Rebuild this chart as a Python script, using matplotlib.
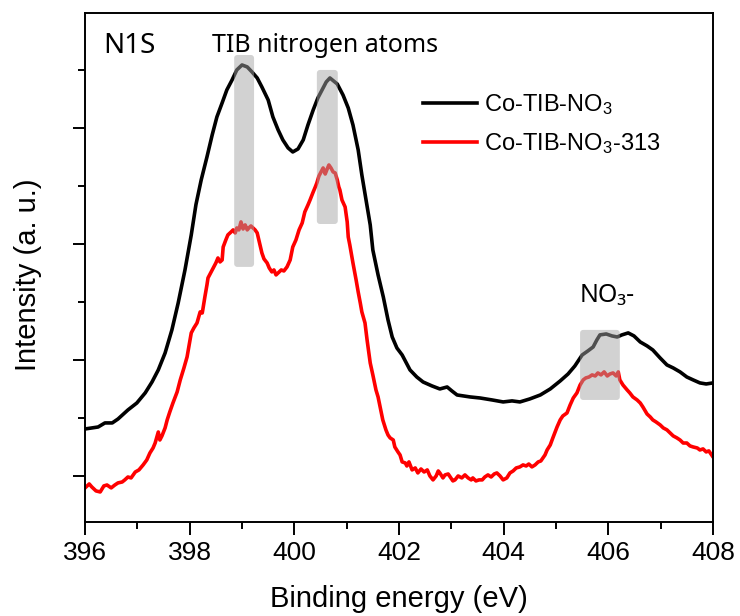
import matplotlib
matplotlib.use("Agg")
import matplotlib.pyplot as plt
from matplotlib.patches import FancyBboxPatch
from matplotlib.ticker import MultipleLocator

plt.rcParams["font.family"] = ["Liberation Sans", "DejaVu Sans"]
plt.rcParams["mathtext.fontset"] = "custom"
plt.rcParams["mathtext.rm"] = "Liberation Sans"
plt.rcParams["mathtext.it"] = "Liberation Sans:italic"

# N 1s spectrum of Co-TIB-NO3 (binding energy in eV, intensity in a.u.)
black_energy = [
    396.00, 396.25, 396.38, 396.52, 396.63, 396.82, 396.99, 397.15, 397.28, 397.40,
    397.53, 397.66, 397.78, 397.91, 398.03, 398.12, 398.22, 398.33, 398.43, 398.52,
    398.62, 398.71, 398.81, 398.90, 399.00, 399.10, 399.19, 399.29, 399.38, 399.50,
    399.59, 399.69, 399.78, 399.88, 399.97, 400.07, 400.17, 400.26, 400.36, 400.45,
    400.53, 400.61, 400.68, 400.82, 400.93, 401.03, 401.12, 401.22, 401.29, 401.37,
    401.45, 401.50, 401.60, 401.70, 401.79, 401.87, 401.96, 402.06, 402.21, 402.34,
    402.46, 402.63, 402.78, 402.92, 403.01, 403.11, 403.36, 403.55, 403.78, 403.99,
    404.16, 404.31, 404.50, 404.70, 404.89, 405.08, 405.23, 405.36, 405.50, 405.61,
    405.71, 405.78, 405.84, 405.96, 406.07, 406.17, 406.26, 406.38, 406.49, 406.61,
    406.74, 406.85, 406.99, 407.12, 407.24, 407.37, 407.50, 407.62, 407.75, 407.87,
    408.00,
]
black_intensity = [
    1.405, 1.422, 1.457, 1.457, 1.491, 1.569, 1.629, 1.716, 1.810, 1.914,
    2.060, 2.259, 2.491, 2.776, 3.078, 3.340, 3.552, 3.750, 3.940, 4.095,
    4.216, 4.328, 4.414, 4.500, 4.543, 4.526, 4.483, 4.431, 4.353, 4.241,
    4.095, 3.983, 3.897, 3.828, 3.793, 3.819, 3.897, 4.026, 4.155, 4.259,
    4.328, 4.397, 4.431, 4.379, 4.284, 4.172, 4.026, 3.810, 3.595, 3.379,
    3.164, 2.948, 2.733, 2.543, 2.345, 2.198, 2.103, 2.043, 1.914, 1.853,
    1.810, 1.776, 1.750, 1.767, 1.733, 1.698, 1.681, 1.672, 1.655, 1.638,
    1.647, 1.638, 1.664, 1.698, 1.750, 1.819, 1.879, 1.948, 2.043, 2.078,
    2.112, 2.172, 2.216, 2.224, 2.207, 2.198, 2.216, 2.233, 2.207, 2.155,
    2.121, 2.086, 2.017, 1.957, 1.931, 1.897, 1.853, 1.828, 1.802, 1.793,
    1.802,
]

# N 1s spectrum of Co-TIB-NO3-313
red_energy = [
    396.00, 396.08, 396.13, 396.21, 396.29, 396.36, 396.42, 396.50, 396.57, 396.63,
    396.71, 396.76, 396.82, 396.88, 396.96, 397.03, 397.11, 397.18, 397.24, 397.30,
    397.34, 397.40, 397.43, 397.47, 397.53, 397.57, 397.62, 397.68, 397.76, 397.82,
    397.89, 397.95, 397.99, 398.03, 398.08, 398.14, 398.20, 398.24, 398.25, 398.29,
    398.33, 398.35, 398.41, 398.45, 398.50, 398.54, 398.58, 398.62, 398.64, 398.69,
    398.73, 398.79, 398.83, 398.87, 398.90, 398.94, 398.98, 399.02, 399.06, 399.10,
    399.13, 399.17, 399.21, 399.25, 399.29, 399.33, 399.38, 399.42, 399.48, 399.52,
    399.57, 399.61, 399.65, 399.69, 399.75, 399.80, 399.86, 399.92, 399.97, 400.03,
    400.09, 400.15, 400.20, 400.26, 400.30, 400.36, 400.40, 400.43, 400.47, 400.51,
    400.55, 400.59, 400.62, 400.66, 400.70, 400.74, 400.78, 400.82, 400.85, 400.87,
    400.91, 400.97, 401.01, 401.03, 401.06, 401.12, 401.18, 401.22, 401.26, 401.29,
    401.35, 401.39, 401.45, 401.50, 401.56, 401.60, 401.64, 401.69, 401.75, 401.79,
    401.83, 401.89, 401.92, 401.98, 402.02, 402.06, 402.12, 402.15, 402.19, 402.25,
    402.31, 402.36, 402.42, 402.48, 402.54, 402.59, 402.65, 402.71, 402.75, 402.78,
    402.84, 402.88, 402.94, 402.99, 403.03, 403.07, 403.13, 403.20, 403.26, 403.32,
    403.38, 403.41, 403.47, 403.53, 403.59, 403.64, 403.70, 403.76, 403.82, 403.87,
    403.93, 403.99, 404.06, 404.12, 404.18, 404.24, 404.31, 404.37, 404.43, 404.48,
    404.54, 404.60, 404.66, 404.71, 404.79, 404.83, 404.89, 404.94, 405.02, 405.08,
    405.13, 405.21, 405.27, 405.33, 405.40, 405.46, 405.52, 405.57, 405.63, 405.69,
    405.75, 405.80, 405.86, 405.92, 405.98, 406.03, 406.09, 406.15, 406.19, 406.22,
    406.28, 406.36, 406.41, 406.47, 406.55, 406.61, 406.66, 406.74, 406.80, 406.85,
    406.91, 406.99, 407.05, 407.12, 407.18, 407.24, 407.31, 407.37, 407.43, 407.50,
    407.56, 407.62, 407.70, 407.75, 407.81, 407.87, 407.92, 408.00,
]
red_intensity = [
    0.897, 0.931, 0.905, 0.871, 0.862, 0.914, 0.922, 0.897, 0.922, 0.940,
    0.948, 0.966, 0.991, 0.983, 1.034, 1.052, 1.095, 1.138, 1.198, 1.241,
    1.284, 1.379, 1.310, 1.345, 1.414, 1.483, 1.552, 1.629, 1.724, 1.828,
    1.931, 2.026, 2.129, 2.233, 2.276, 2.319, 2.414, 2.405, 2.431, 2.543,
    2.647, 2.707, 2.759, 2.793, 2.836, 2.879, 2.845, 2.862, 2.974, 3.034,
    3.078, 3.103, 3.121, 3.095, 3.138, 3.121, 3.190, 3.129, 3.164, 3.121,
    3.138, 3.155, 3.138, 3.121, 3.095, 3.017, 2.922, 2.871, 2.836, 2.793,
    2.759, 2.776, 2.733, 2.750, 2.776, 2.767, 2.802, 2.862, 2.974, 3.034,
    3.121, 3.181, 3.276, 3.336, 3.379, 3.448, 3.491, 3.526, 3.586, 3.621,
    3.655, 3.603, 3.638, 3.681, 3.655, 3.621, 3.612, 3.552, 3.491, 3.466,
    3.379, 3.319, 3.190, 3.060, 2.991, 2.836, 2.690, 2.586, 2.491, 2.414,
    2.319, 2.172, 1.974, 1.871, 1.741, 1.681, 1.595, 1.483, 1.397, 1.353,
    1.328, 1.310, 1.250, 1.207, 1.181, 1.121, 1.112, 1.086, 1.121, 1.052,
    1.069, 1.026, 1.060, 1.034, 1.052, 1.000, 0.966, 1.000, 1.043, 1.026,
    0.983, 1.009, 1.017, 0.983, 0.957, 0.966, 1.000, 0.983, 1.009, 0.983,
    0.966, 0.983, 0.957, 0.966, 0.966, 0.991, 1.009, 0.991, 1.017, 1.026,
    1.000, 0.966, 0.983, 1.026, 1.043, 1.069, 1.078, 1.095, 1.086, 1.103,
    1.078, 1.095, 1.121, 1.129, 1.181, 1.224, 1.267, 1.328, 1.422, 1.483,
    1.517, 1.543, 1.612, 1.672, 1.716, 1.784, 1.828, 1.845, 1.853, 1.871,
    1.862, 1.888, 1.871, 1.897, 1.862, 1.879, 1.888, 1.862, 1.897, 1.828,
    1.784, 1.741, 1.716, 1.681, 1.655, 1.629, 1.595, 1.534, 1.509, 1.483,
    1.466, 1.440, 1.414, 1.397, 1.371, 1.345, 1.328, 1.310, 1.284, 1.284,
    1.259, 1.250, 1.241, 1.224, 1.233, 1.207, 1.216, 1.164,
]

series_labels = ["Co-TIB-NO$_3$", "Co-TIB-NO$_3$-313"]

# Highlighted peak regions: (energy start, energy end, intensity low, intensity high)
highlight_regions = [
    (398.85, 399.23, 2.802, 4.629),
    (400.43, 400.83, 3.172, 4.500),
    (405.46, 406.22, 1.655, 2.259),
]

fig = plt.figure(figsize=(7.4, 6.16), dpi=100)
ax = fig.add_axes([0.1149, 0.1526, 0.8486, 0.8263])

ax.plot(black_energy, black_intensity, color="black", lw=2.6, label=series_labels[0],
        solid_joinstyle="round")
ax.plot(red_energy, red_intensity, color="#ff0000", lw=2.6, label=series_labels[1],
        solid_joinstyle="round")

for x0, x1, y0, y1 in highlight_regions:
    box = FancyBboxPatch((x0, y0), x1 - x0, y1 - y0,
                         boxstyle="round,pad=0,rounding_size=0.06",
                         mutation_aspect=0.45, facecolor="#a5a5a5",
                         edgecolor="none", alpha=0.49, zorder=5)
    ax.add_patch(box)

ax.set_xlim(396, 408)
ax.set_ylim(0.603, 4.991)
ax.xaxis.set_major_locator(MultipleLocator(2))
ax.xaxis.set_minor_locator(MultipleLocator(1))
ax.yaxis.set_major_locator(MultipleLocator(1))
ax.yaxis.set_minor_locator(MultipleLocator(0.5))
ax.tick_params(axis="both", which="major", direction="out", length=9, width=1.4,
               labelsize=19, pad=5)
ax.tick_params(axis="both", which="minor", direction="out", length=5, width=1.4)
ax.tick_params(axis="y", which="both", labelleft=False)
for sp in ax.spines.values():
    sp.set_linewidth(1.4)

ax.set_xlabel("Binding energy (eV)", fontsize=21, labelpad=14)
ax.set_ylabel("Intensity (a. u.)", fontsize=21, labelpad=22, y=0.485)

ann_font = ["Noto Sans", "DejaVu Sans"]
ax.text(396.34, 4.647, "N1S", fontsize=20, family=ann_font, va="baseline")
ax.text(398.43, 4.655, "TIB nitrogen atoms", fontsize=18, family=ann_font, va="baseline")
ax.text(405.46, 2.50, "NO\u2083-", fontsize=18, family=ann_font, va="baseline")

ax.legend(loc="upper left", bbox_to_anchor=(0.538, 0.845), frameon=False,
          fontsize=17, handlelength=2.3, handletextpad=0.3, labelspacing=0.6,
          borderpad=0, borderaxespad=0)

fig.savefig("out.png", dpi=100)
